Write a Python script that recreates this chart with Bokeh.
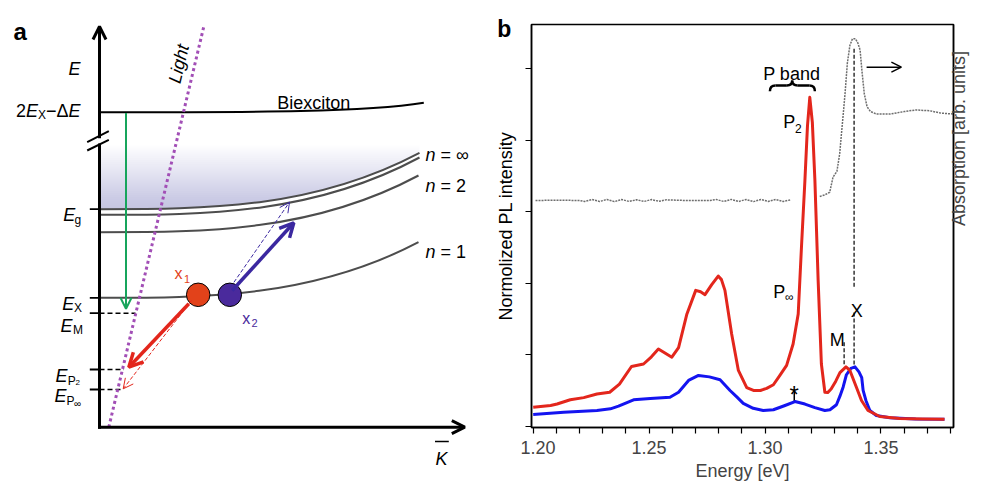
import math
import numpy as np
from bokeh.plotting import figure
from bokeh.layouts import row
from bokeh.models import Range1d, LinearAxis, FixedTicker, Arrow, OpenHead
from bokeh.core.properties import value
from bokeh.embed import file_html
from bokeh.resources import INLINE

FONT = "Liberation Sans"

# ------------------------------------------------------------------ panel b data
red_energy = [1.2000, 1.2075, 1.2103, 1.2160, 1.2218, 1.2275, 1.2330, 1.2372, 1.2424, 1.2476,
              1.2510, 1.2540, 1.2570, 1.2598, 1.2627, 1.2663, 1.2701, 1.2722, 1.2741, 1.2770,
              1.2798, 1.2812, 1.2827, 1.2856, 1.2885, 1.2921, 1.2950, 1.2980, 1.3007, 1.3036,
              1.3064, 1.3093, 1.3121, 1.3143, 1.3157, 1.3172, 1.3183, 1.3193, 1.3204, 1.3215,
              1.3229, 1.3243, 1.3258, 1.3270, 1.3285, 1.3305, 1.3323, 1.3349, 1.3366, 1.3394,
              1.3416, 1.3444, 1.3495, 1.3580, 1.3680, 1.3774]
red_pl = [0.266, 0.29, 0.31, 0.37, 0.40, 0.45, 0.475, 0.59, 0.835, 0.87,
          0.97, 1.08, 1.02, 0.965, 1.10, 1.57, 1.90, 1.88, 1.84, 1.98,
          2.10, 2.05, 1.90, 1.29, 0.78, 0.54, 0.50, 0.50, 0.53, 0.58,
          0.71, 0.85, 1.15, 1.57, 2.50, 3.44, 4.20, 4.60, 4.25, 3.44,
          2.04, 0.87, 0.475, 0.47, 0.52, 0.63, 0.75, 0.83, 0.78, 0.545,
          0.36, 0.22, 0.136, 0.108, 0.10, 0.098]

blue_energy = [1.2000, 1.2132, 1.2275, 1.2333, 1.2368, 1.2433, 1.2505, 1.2590, 1.2627, 1.2670,
               1.2713, 1.2760, 1.2806, 1.2849, 1.2878, 1.2906, 1.2949, 1.2992, 1.3036, 1.3086,
               1.3129, 1.3172, 1.3215, 1.3258, 1.3280, 1.3308, 1.3323, 1.3337, 1.3351, 1.3370,
               1.3388, 1.3405, 1.3417, 1.3423, 1.3435, 1.3452, 1.3480, 1.3538, 1.3650, 1.3774]
blue_pl = [0.164, 0.196, 0.22, 0.243, 0.28, 0.37, 0.387, 0.405, 0.475, 0.64,
           0.71, 0.69, 0.65, 0.50, 0.41, 0.32, 0.25, 0.22, 0.23, 0.29,
           0.345, 0.31, 0.26, 0.22, 0.23, 0.30, 0.42, 0.55, 0.72, 0.81,
           0.83, 0.76, 0.68, 0.50, 0.36, 0.22, 0.15, 0.117, 0.10, 0.098]

abs_energy_1 = [1.2010, 1.2100, 1.2200, 1.2222, 1.2254, 1.2286, 1.2318, 1.2350, 1.2382, 1.2414,
                1.2446, 1.2478, 1.2510, 1.2542, 1.2574, 1.2660, 1.2763, 1.2790, 1.2822, 1.2854,
                1.2886, 1.2918, 1.2950, 1.2982, 1.3014, 1.3046, 1.3078, 1.3110]
abs_value_1 = [0.000, 0.002, 0.000, -0.006, 0.006, -0.006, 0.006, -0.007, 0.006, -0.006,
               0.005, -0.006, 0.006, -0.005, 0.004, 0.000, 0.000, 0.006, -0.006, 0.007,
               -0.006, 0.006, -0.007, 0.006, -0.006, 0.006, -0.006, 0.004]
abs_energy_2 = [1.3236, 1.3258, 1.3279, 1.3293, 1.3310, 1.3322, 1.3330, 1.3337, 1.3345, 1.3355,
                1.3366, 1.3377, 1.3390, 1.3400, 1.3410, 1.3418, 1.3428, 1.3440, 1.3455, 1.3480,
                1.3540, 1.3600, 1.3650, 1.3710, 1.3760, 1.3812]
abs_value_2 = [0.025, 0.035, 0.051, 0.144, 0.18, 0.29, 0.42, 0.53, 0.66, 0.85,
               0.96, 1.00, 1.00, 0.975, 0.93, 0.80, 0.66, 0.58, 0.55, 0.535,
               0.535, 0.55, 0.56, 0.555, 0.54, 0.535]

x_ticks = [1.20, 1.25, 1.30, 1.35]
x_tick_labels = ["1.20", "1.25", "1.30", "1.35"]
x_minor_ticks = [1.21, 1.22, 1.23, 1.24, 1.26, 1.27, 1.28, 1.29, 1.31, 1.32,
                 1.33, 1.34, 1.36, 1.37, 1.38]
y_ticks = [0, 1, 2, 3, 4, 5]

x_peak_energy = 1.3384
m_peak_energy = 1.3341
star_energy = 1.3126

# ------------------------------------------------------------------ panel a schematic
level_names = ["Biexciton", "n = \u221e", "n = 3", "n = 2", "n = 1"]
level_y0 = [111.7, 208.7, 214.3, 231.7, 297.3]   # flat start of each dispersion
level_y1 = [102.3, 152.3, 157.0, 175.0, 241.7]   # end of each dispersion
level_x1 = [423.3, 419.0, 419.0, 418.0, 418.0]
axis_x0, axis_y0 = 99.0, 426.7

RED = "#e3261c"
BLUE = "#1414f0"
ORANGE = "#e2421a"
PURPLE = "#4a2a9c"
ARROW_PURPLE = "#3b28a0"
GREEN = "#17a55c"
LIGHT = "#a24fb6"

# page geometry (the frame of panel b sits at x 531..954, y 24..427)
W_A, W_B, H = 520, 461, 487


def txt(p, x, y, s, size=18, style="normal", color="black", align="left",
        baseline="alphabetic", angle=0.0):
    p.text(x=[x], y=[y], text=[s], text_font=value(FONT), text_font_size=f"{size}px",
           text_font_style=style, text_color=color, text_align=align,
           text_baseline=baseline, angle=angle)


def no_align(p):
    if "frame_align" in p.properties():
        p.frame_align = False


# ================================================================== panel a
pa = figure(width=W_A, height=H, x_range=Range1d(0, W_A), y_range=Range1d(H, 0),
            output_backend="svg", toolbar_location=None, min_border=0,
            x_axis_type=None, y_axis_type=None, title=None)
no_align(pa)
pa.outline_line_color = None
pa.xgrid.visible = False
pa.ygrid.visible = False

# gradient band above the n = infinity continuum edge
xs = np.linspace(axis_x0, level_x1[1], 160)
tt = (xs - axis_x0) / (level_x1[1] - axis_x0)
cinf = level_y0[1] + (level_y1[1] - level_y0[1]) * tt ** 3
edges = np.linspace(145.0, 209.0, 32)
for e in edges:
    pa.varea(x=xs, y1=np.minimum(e, cinf), y2=cinf, fill_color="#a2a4e4", fill_alpha=0.018)

# dispersion curves (cubic Bezier, flat at K=0)
x0s = [axis_x0] * len(level_y0)
L = [b - a for a, b in zip(x0s, level_x1)]
pa.bezier(x0=x0s[:1], y0=level_y0[:1], x1=level_x1[:1], y1=level_y1[:1],
          cx0=[x0s[0] + 0.5 * L[0]], cy0=level_y0[:1], cx1=[x0s[0] + 0.82 * L[0]],
          cy1=level_y0[:1], line_color="black", line_width=2)
pa.bezier(x0=x0s[1:], y0=level_y0[1:], x1=level_x1[1:], y1=level_y1[1:],
          cx0=[a + l / 3 for a, l in zip(x0s[1:], L[1:])], cy0=level_y0[1:],
          cx1=[a + 2 * l / 3 for a, l in zip(x0s[1:], L[1:])], cy1=level_y0[1:],
          line_color="#4d4d4d", line_width=2)

# energy ticks and dashed levels
E_g, E_X, E_M, E_P2, E_Pinf = 208.7, 297.3, 312.7, 369.0, 389.0
pa.segment(x0=[89.3] * 5, y0=[E_g, E_X, E_M, E_P2, E_Pinf], x1=[axis_x0] * 5,
           y1=[E_g, E_X, E_M, E_P2, E_Pinf], line_color="black", line_width=1.8)
pa.segment(x0=[axis_x0] * 3, y0=[E_M, E_P2, E_Pinf], x1=[135.0, 123.3, 120.0],
           y1=[E_M, E_P2, E_Pinf], line_color="black", line_width=1.5, line_dash="5 3")

# axes with open arrow heads
pa.add_layout(Arrow(x_start=axis_x0, y_start=axis_y0 + 1.5, x_end=axis_x0, y_end=26,
                    end=OpenHead(size=13, line_width=3), line_width=3))
pa.add_layout(Arrow(x_start=axis_x0 - 1.5, y_start=axis_y0, x_end=464.3, y_end=axis_y0,
                    end=OpenHead(size=13, line_width=3), line_width=3))

# green arrow
pa.add_layout(Arrow(x_start=125.5, y_start=112.5, x_end=125.5, y_end=308.3,
                    end=OpenHead(size=11, line_width=2, line_color=GREEN),
                    line_color=GREEN, line_width=2))
# red arrows
pa.add_layout(Arrow(x_start=188.3, y_start=303.3, x_end=128.3, y_end=366.7,
                    end=OpenHead(size=14, line_width=3.5, line_color=RED),
                    line_color=RED, line_width=3.5))
pa.add_layout(Arrow(x_start=191.0, y_start=300.0, x_end=122.7, y_end=388.3,
                    end=OpenHead(size=10, line_width=1, line_color=RED),
                    line_color=RED, line_width=1, line_dash="4 2"))

# excitons
pa.scatter(x=[197.7], y=[294.3], size=23.5, marker="circle", fill_color=ORANGE,
           line_color="black", line_width=1)
pa.scatter(x=[229.3], y=[294.3], size=23.5, marker="circle", fill_color=PURPLE,
           line_color="black", line_width=1)

# purple arrows
pa.add_layout(Arrow(x_start=231.7, y_start=290.0, x_end=293.3, y_end=222.3,
                    end=OpenHead(size=14, line_width=3.5, line_color=ARROW_PURPLE),
                    line_color=ARROW_PURPLE, line_width=3.5))
pa.add_layout(Arrow(x_start=230.0, y_start=286.7, x_end=289.0, y_end=201.7,
                    end=OpenHead(size=10, line_width=1, line_color=ARROW_PURPLE),
                    line_color=ARROW_PURPLE, line_width=1, line_dash="4 2"))

# axis break (drawn over the axis)
pa.add_layout(Arrow(x_start=axis_x0, y_start=137.7, x_end=axis_x0, y_end=143.0, end=None,
                    line_color="white", line_width=4))
pa.add_layout(Arrow(x_start=86.7, y_start=141.7, x_end=108.3, y_end=130.7, end=None,
                    line_color="black", line_width=2))
pa.add_layout(Arrow(x_start=86.7, y_start=150.0, x_end=108.3, y_end=139.3, end=None,
                    line_color="black", line_width=2))

# light line
pa.line(x=[108.3, 203.3], y=[axis_y0, 26.0], line_color=LIGHT, line_width=3, line_dash="3 3")

# texts panel a
txt(pa, 13, 30.7, "a", size=24, style="bold")
txt(pa, 68, 68.3, "E", style="italic")
txt(pa, 15.5, 110.0, "2")
txt(pa, 25.5, 110.0, "E", style="italic")
txt(pa, 37.5, 114.5, "X", size=12)
txt(pa, 45.5, 110.0, "\u2212\u0394")
txt(pa, 68.0, 110.0, "E", style="italic")
txt(pa, 62.7, 214.0, "E", style="italic")
txt(pa, 74.0, 219.0, "g", size=12)
txt(pa, 61.7, 303.3, "E", style="italic")
txt(pa, 73.5, 307.5, "X", size=12)
txt(pa, 60.0, 325.0, "E", style="italic")
txt(pa, 72.5, 329.0, "M", size=12)
txt(pa, 55.0, 375.0, "E", style="italic")
txt(pa, 67.3, 380.0, "P", size=12)
txt(pa, 75.0, 381.5, "2", size=8)
txt(pa, 54.0, 395.0, "E", style="italic")
txt(pa, 66.0, 400.0, "P", size=12)
txt(pa, 73.5, 403.0, "\u221e", size=10)
txt(pa, 276.7, 102.0, level_names[0])
for yb, lvl in zip([154.0, 185.0, 251.0], ["\u221e", "2", "1"]):
    txt(pa, 425.0, yb, "n", style="italic")
    txt(pa, 440.0, yb, "= " + lvl)
txt(pa, 174.0, 273.3, "x", size=16, color=ORANGE)
txt(pa, 183.5, 278.5, "1", size=11, color=ORANGE)
txt(pa, 241.7, 318.3, "x", size=16, color=PURPLE)
txt(pa, 251.0, 322.7, "2", size=11, color=PURPLE)
txt(pa, 435.0, 458.3, "K", style="italic")
pa.segment(x0=[434.5], y0=[441.0], x1=[448.3], y1=[441.0], line_color="black", line_width=1.5)
txt(pa, 178.3, 63.3, "Light", style="italic", align="center", baseline="middle",
    angle=math.radians(76.7))
# panel b letter and its y-axis title (they sit left of panel b's frame)
txt(pa, 496.7, 28.3, "b", size=23, style="bold")
txt(pa, 505.5, 225.5, "Normolized PL intensity", align="center", baseline="middle",
    angle=math.pi / 2)

# ================================================================== panel b
pb = figure(width=W_B, height=H, x_range=Range1d(1.19927, 1.38128),
            y_range=Range1d(-0.018, 5.618), output_backend="svg", toolbar_location=None,
            min_border_left=531 - W_A, min_border_right=27, min_border_top=24,
            min_border_bottom=60, title=None)
no_align(pb)
pb.xgrid.visible = False
pb.ygrid.visible = False
pb.outline_line_color = "black"
pb.outline_line_width = 1.5
pb.outline_line_alpha = 1.0

xa = pb.below[0]
xa.ticker = FixedTicker(ticks=x_ticks, minor_ticks=x_minor_ticks)
xa.major_label_overrides = {t: l for t, l in zip(x_ticks, x_tick_labels)}
xa.major_tick_out = 6
xa.major_tick_in = 0
xa.minor_tick_out = 6
xa.minor_tick_in = 0
xa.axis_line_width = 1.5
xa.major_tick_line_width = 1.2
xa.minor_tick_line_width = 1.2
xa.major_label_text_font = FONT
xa.major_label_text_font_size = "18px"
xa.major_label_standoff = 7
xa.axis_label = "Energy [eV]"
xa.axis_label_text_font = FONT
xa.axis_label_text_font_size = "18px"
xa.axis_label_text_font_style = "normal"
xa.axis_label_standoff = 4

ya = pb.left[0]
ya.ticker = FixedTicker(ticks=y_ticks, minor_ticks=[])
ya.major_tick_out = 6
ya.major_tick_in = 0
ya.axis_line_width = 1.5
ya.major_tick_line_width = 1.2
ya.major_label_text_font_size = "0px"
ya.major_label_text_color = None
ya.major_label_standoff = 0

pb.extra_y_ranges = {"abs": Range1d(-1.4038, 1.0884)}
ra = LinearAxis(y_range_name="abs", ticker=FixedTicker(ticks=[]))
ra.major_tick_out = 0
ra.major_tick_in = 0
ra.minor_tick_out = 0
ra.minor_tick_in = 0
ra.major_label_text_font_size = "0px"
ra.major_label_text_color = None
ra.major_label_standoff = 0
ra.axis_line_width = 1.5
ra.axis_label = "Absorption [arb. units]"
ra.axis_label_text_font = FONT
ra.axis_label_text_font_size = "18px"
ra.axis_label_text_font_style = "normal"
ra.axis_label_standoff = 5
ra.axis_label_orientation = math.pi / 2
pb.add_layout(ra, "right")

# absorption (right axis)
pb.line(abs_energy_1, abs_value_1, y_range_name="abs", line_color="#6e6e6e",
        line_width=1.5, line_dash="2 1")
pb.line(abs_energy_2, abs_value_2, y_range_name="abs", line_color="#6e6e6e",
        line_width=1.5, line_dash="2 1")

# marker lines
pb.segment(x0=[x_peak_energy, x_peak_energy, m_peak_energy], y0=[5.28, 1.59, 1.175],
           x1=[x_peak_energy, x_peak_energy, m_peak_energy], y1=[1.94, 0.85, 0.849],
           line_color="black", line_width=1.2, line_dash="4 2")
pb.segment(x0=[star_energy], y0=[0.52], x1=[star_energy], y1=[0.345],
           line_color="black", line_width=1.5)

# PL spectra
pb.line(blue_energy, blue_pl, line_color=BLUE, line_width=3, line_join="round")
pb.line(red_energy, red_pl, line_color=RED, line_width=3, line_join="round")

# brace over P band
pb.quadratic(x0=[1.3021, 1.3215], y0=[4.685, 4.685], x1=[1.3045, 1.3191], y1=[4.765, 4.765],
             cx=[1.3021, 1.3215], cy=[4.765, 4.765], line_color="black", line_width=2.5)
pb.segment(x0=[1.3045, 1.3141], y0=[4.765, 4.765], x1=[1.3094, 1.3191], y1=[4.765, 4.765],
           line_color="black", line_width=2.5)
pb.quadratic(x0=[1.3094, 1.3141], y0=[4.765, 4.765], x1=[1.3117, 1.3117], y1=[4.835, 4.835],
             cx=[1.3117, 1.3117], cy=[4.765, 4.765], line_color="black", line_width=2.5)

# labels panel b
txt(pb, 1.3115, 4.93, "P band", align="center")
txt(pb, 1.30783, 4.252, "P")
txt(pb, 1.31287, 4.159, "2", size=12)
txt(pb, 1.30353, 1.874, "P")
txt(pb, 1.30856, 1.814, "\u221e", size=12)
txt(pb, 1.33115, 1.199, "M", align="center")
txt(pb, 1.33955, 1.618, "X", align="center")
txt(pb, 1.31256, 0.443, "*", size=24, align="center")
pb.add_layout(Arrow(x_start=1.3438, y_start=5.021, x_end=1.3588, y_end=5.021,
                    end=OpenHead(size=10, line_width=1.5), line_width=1.5))

layout = row(pa, pb)
with open("out.html", "w") as f:
    f.write(file_html(layout, INLINE))
